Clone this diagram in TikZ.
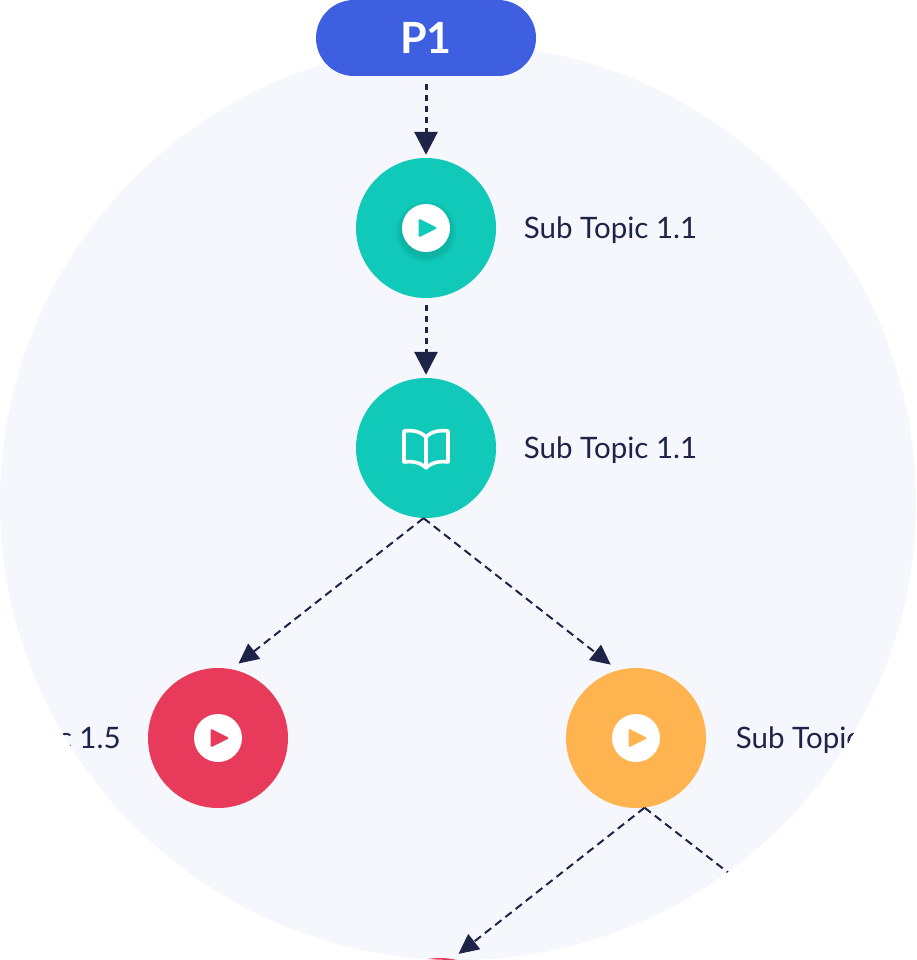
\documentclass[tikz,border=0pt]{standalone}
\usepackage{fontspec}
\setmainfont{Lato}
\usetikzlibrary{arrows.meta,positioning}
\definecolor{panelcol}{HTML}{F6F7FD}
\definecolor{bluecol}{HTML}{3D5FE0}
\definecolor{tealcol}{HTML}{10C9B9}
\definecolor{redcol}{HTML}{E83A5A}
\definecolor{orangecol}{HTML}{FFB450}
\definecolor{inkcol}{HTML}{1E2348}
\tikzset{topic/.style = {circle, minimum size=140pt, inner sep=0pt},
	disc/.style     = {circle, fill=white, minimum size=48pt, inner sep=0pt},
	label/.style    = {text=inkcol, inner sep=0pt, yshift=-2.5pt, font=\fontsize{29.5}{34}\selectfont},
	title/.style    = {rectangle, fill=bluecol, rounded corners=38pt, minimum width=220pt, minimum height=76pt,
		text=white, font=\fontsize{43}{50}\selectfont\bfseries},
	thick line/.style = {draw=inkcol, line width=3pt, dash pattern=on 6pt off 5pt, -{Triangle[width=23pt,length=23pt]}},
	thin line/.style  = {draw=inkcol, line width=2pt, dash pattern=on 8pt off 5pt, -{Triangle[width=19pt,length=20pt]}}
}
\newcommand{\playicon}[3]{
	\node [disc] (#1) at (#2) {};
	\fill [#3, rounded corners=1.5pt, shift={(#1)}] (-7.5,-9.5) -- (11.5,0) -- (-7.5,9.5) -- cycle;
}
\begin{document}
\begin{tikzpicture}[x=1pt, y=-1pt, node distance = 220pt]
	\useasboundingbox (0,0) rectangle (916,960);
	\fill [panelcol] (458,502) circle (458);
	\node [title] (p1) at (426,38) {P1};
	\begin{scope}
		\clip (458,502) circle (458);
		\node [topic, fill=tealcol] (video) at (426,228) {};
		\node [topic, fill=tealcol, below of=video] (book) {};
		\node [topic, fill=redcol] (left) at (218,738) {};
		\node [topic, fill=orangecol] (right) at (636,738) {};
		\node [topic, fill=redcol] (bottom) at (440,1028) {};
		\coordinate (rightend) at (855,971);
		\node [label, right=27.5pt of video] (videotext) {Sub Topic 1.1};
		\node [label, right=27.5pt of book] (booktext) {Sub Topic 1.1};
		\node [label, left=27pt of left] (lefttext) {Sub Topic 1.5};
		\node [label, right=29.5pt of right] (righttext) {Sub Topic 1.1};
		\path [thin line, shorten >=9pt] (book.-92) -- (left.79);
		\path [thin line, shorten >=9pt] (book.-92) -- (right.105.6);
		\path [thin line, shorten >=8pt] (right.-83) -- (bottom.80);
		\path [thin line, -] (right.-83) -- (rightend);
	\end{scope}
	\path [thick line, shorten <=8pt, shorten >=3pt] (p1.south) -- (video.north);
	\path [thick line, shorten <=7pt, shorten >=3pt] (video.south) -- (book.north);
	% soft shadow under the first disc
	\foreach \r in {30,28,26}
		\fill [black, opacity=0.035] ([yshift=-4pt]video.center) circle (\r);
	\playicon{videodisc}{video}{tealcol}
	\playicon{leftdisc}{left}{redcol}
	\playicon{rightdisc}{right}{orangecol}
	% open book
	\begin{scope}[shift={(book)}, draw=white, line width=3.6pt, line join=round, line cap=round]
		\draw (0,-11) .. controls (-6,-17) and (-14,-18) .. (-22,-17) -- (-22,14)
			.. controls (-14,13) and (-6,14) .. (0,20) .. controls (6,14) and (14,13) .. (22,14)
			-- (22,-17) .. controls (14,-18) and (6,-17) .. (0,-11) -- (0,18);
	\end{scope}
\end{tikzpicture}
\end{document}
